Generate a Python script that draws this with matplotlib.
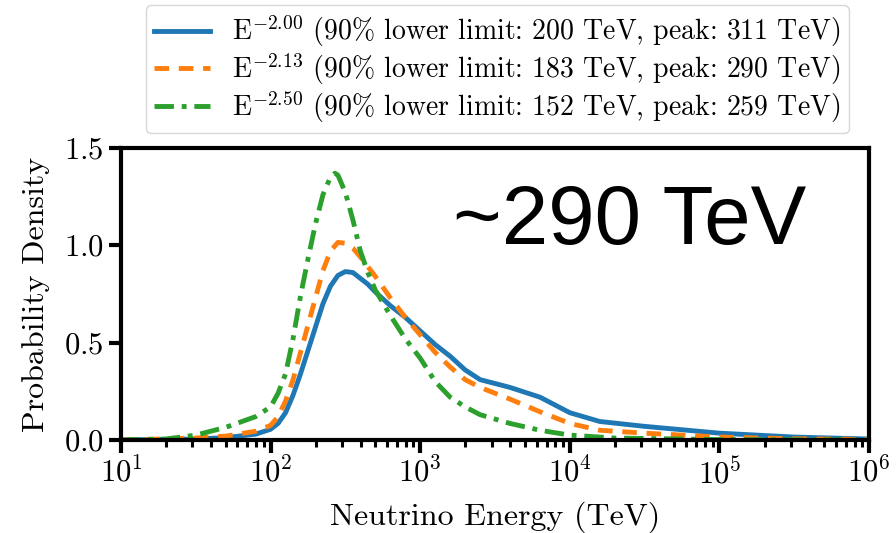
import numpy as np
import matplotlib.pyplot as plt

plt.rcParams['font.family'] = ['cmr10', 'DejaVu Serif']
plt.rcParams['mathtext.fontset'] = 'cm'
plt.rcParams['axes.formatter.use_mathtext'] = True
plt.rcParams['axes.unicode_minus'] = False

# log10(E / TeV) sample points and densities
logE_blue = [1.0, 1.5, 1.7, 1.9, 2.0, 2.05, 2.1, 2.15, 2.2, 2.25, 2.3, 2.35, 2.4, 2.45, 2.5, 2.55, 2.6, 2.65,
             2.7, 2.8, 2.9, 3.0, 3.1, 3.2, 3.3, 3.4, 3.6, 3.8, 4.0, 4.2, 4.5, 5.0, 5.5, 6.0]
pdf_blue = [0.0, 0.005, 0.012, 0.03, 0.055, 0.085, 0.14, 0.23, 0.34, 0.46, 0.58, 0.70, 0.79, 0.845, 0.865, 0.86,
            0.83, 0.80, 0.76, 0.69, 0.63, 0.56, 0.49, 0.43, 0.36, 0.31, 0.27, 0.22, 0.14, 0.095, 0.07, 0.035,
            0.015, 0.005]

logE_orange = [1.0, 1.5, 1.7, 1.9, 2.0, 2.05, 2.1, 2.15, 2.2, 2.25, 2.3, 2.35, 2.4, 2.45, 2.5, 2.55, 2.6, 2.65,
               2.7, 2.8, 2.9, 3.0, 3.1, 3.2, 3.3, 3.4, 3.6, 3.8, 4.0, 4.2, 4.5, 5.0, 5.5, 6.0]
pdf_orange = [0.0, 0.01, 0.02, 0.045, 0.075, 0.12, 0.2, 0.31, 0.45, 0.59, 0.73, 0.87, 0.97, 1.015, 1.01, 0.985,
              0.94, 0.89, 0.84, 0.73, 0.63, 0.54, 0.45, 0.375, 0.31, 0.27, 0.21, 0.145, 0.085, 0.05, 0.035,
              0.015, 0.006, 0.003]

logE_green = [1.0, 1.3, 1.5, 1.7, 1.9, 2.0, 2.05, 2.1, 2.15, 2.2, 2.25, 2.3, 2.35, 2.4, 2.43, 2.45, 2.5, 2.55,
              2.6, 2.65, 2.7, 2.8, 2.9, 3.0, 3.1, 3.2, 3.3, 3.4, 3.6, 3.8, 4.0, 4.3, 5.0, 6.0]
pdf_green = [0.0, 0.005, 0.025, 0.065, 0.12, 0.17, 0.24, 0.34, 0.52, 0.74, 0.93, 1.11, 1.26, 1.35, 1.37, 1.36,
             1.27, 1.13, 0.97, 0.86, 0.77, 0.64, 0.52, 0.42, 0.3, 0.22, 0.17, 0.13, 0.085, 0.05, 0.025, 0.01,
             0.002, 0.0]

labels = [
    r'$\mathrm{E}^{-2.00}$ (90% lower limit: 200 TeV, peak: 311 TeV)',
    r'$\mathrm{E}^{-2.13}$ (90% lower limit: 183 TeV, peak: 290 TeV)',
    r'$\mathrm{E}^{-2.50}$ (90% lower limit: 152 TeV, peak: 259 TeV)',
]

fig = plt.figure(figsize=(8.96, 5.33), dpi=100)
ax = fig.add_axes([0.135, 0.1745, 0.835, 0.548])

ax.plot(10 ** np.array(logE_blue), pdf_blue, color='#1f77b4', lw=3.5, ls='-', label=labels[0])
ax.plot(10 ** np.array(logE_orange), pdf_orange, color='#ff7f0e', lw=3.5, ls=(0, (3, 2)), label=labels[1])
ax.plot(10 ** np.array(logE_green), pdf_green, color='#2ca02c', lw=3.5, ls=(0, (4, 1.6, 1, 1.6)), label=labels[2])

ax.set_xscale('log')
ax.set_xlim(10, 1e6)
ax.set_ylim(0, 1.5)
ax.set_yticks([0.0, 0.5, 1.0, 1.5])
ax.set_xlabel('Neutrino Energy (TeV)', fontsize=23, labelpad=8)
ax.set_ylabel('Probability Density', fontsize=23, labelpad=10)
ax.tick_params(axis='both', which='major', labelsize=22, width=3, length=9, direction='out')
ax.tick_params(axis='x', which='minor', width=2.2, length=5)
for s in ax.spines.values():
    s.set_linewidth(3)

ax.text(0.68, 0.745, '~290 TeV', transform=ax.transAxes, ha='center', va='center',
        fontsize=60, family='Liberation Sans')

fig.legend(loc='upper center', bbox_to_anchor=(0.555, 0.99), fontsize=20, borderaxespad=0,
           handlelength=2.0, labelspacing=0.08, borderpad=0.3, handletextpad=0.8)

fig.savefig('out.png', dpi=100)
